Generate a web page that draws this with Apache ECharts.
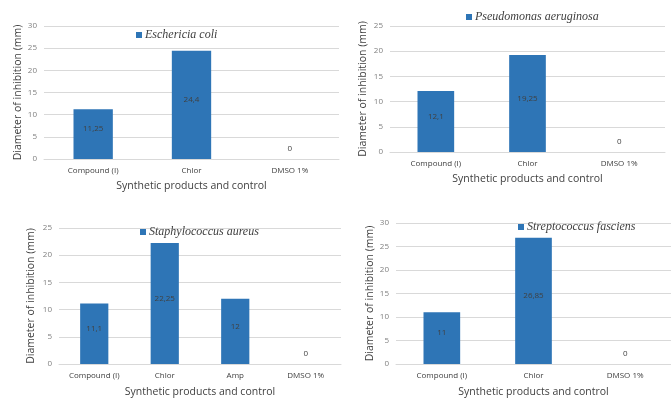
<!DOCTYPE html>
<html>
<head>
<meta charset="utf-8">
<script src="https://cdn.jsdelivr.net/npm/echarts@6/dist/echarts.min.js"></script>
<style>
  html, body { margin: 0; padding: 0; background: #fff; }
  #chart { width: 671px; height: 399px; }
</style>
</head>
<body>
<div id="chart"></div>
<script>
// Inhibition zone diameters (mm) for each test organism
const categoriesThree = ['Compound (I)', 'Chlor', 'DMSO 1%'];
const categoriesFour = ['Compound (I)', 'Chlor', 'Amp', 'DMSO 1%'];

const organismNames = ['Eschericia coli', 'Pseudomonas aeruginosa', 'Staphylococcus aureus', 'Streptococcus fasciens'];

const ecoliValues = [11.25, 24.4, 0];
const pseudomonasValues = [12.1, 19.25, 0];
const staphylococcusValues = [11.1, 22.25, 12, 0];
const streptococcusValues = [11, 26.85, 0];

const axisMaxima = [30, 25, 25, 30];
const axisStep = 5;

const xTitle = 'Synthetic products and control';
const yTitle = 'Diameter of inhibition (mm)';

// Panel layout: grid rectangles, legend anchors and axis-title gaps
const panels = [
  { cats: categoriesThree, values: ecoliValues,          grid: { left: 44,  right: 332, top: 26,  bottom: 240 }, legend: { left: 136, top: 29 },  yGap: 19, xGap: 22 },
  { cats: categoriesThree, values: pseudomonasValues,    grid: { left: 390, right: 6,   top: 26,  bottom: 247 }, legend: { left: 466, top: 11 },  yGap: 21, xGap: 22 },
  { cats: categoriesFour,  values: staphylococcusValues, grid: { left: 59,  right: 330, top: 228, bottom: 33 },  legend: { left: 140, top: 226 }, yGap: 22, xGap: 23 },
  { cats: categoriesThree, values: streptococcusValues,  grid: { left: 396, right: -7,  top: 223, bottom: 34 },  legend: { left: 518, top: 221 }, yGap: 20, xGap: 23 }
];

const sansFont = 'Open Sans';
const barColor = '#2E75B6';
const gridColor = '#D9D9D9';

const fmt = v => String(v).replace('.', ',');

const option = {
  animation: false,
  backgroundColor: '#ffffff',
  grid: [], xAxis: [], yAxis: [], series: [], legend: []
};

panels.forEach((p, i) => {
  option.grid.push(Object.assign({ containLabel: false }, p.grid));
  option.xAxis.push({
    type: 'category',
    gridIndex: i,
    data: p.cats,
    name: xTitle,
    nameLocation: 'middle',
    nameGap: p.xGap,
    nameTextStyle: { fontFamily: sansFont, fontSize: 10.5, color: '#404040' },
    axisLine: { lineStyle: { color: gridColor } },
    axisTick: { show: false },
    axisLabel: { fontFamily: sansFont, fontSize: 8, color: '#404040', margin: 8 }
  });
  option.yAxis.push({
    type: 'value',
    gridIndex: i,
    min: 0,
    max: axisMaxima[i],
    interval: axisStep,
    name: yTitle,
    nameLocation: 'middle',
    nameGap: p.yGap,
    nameTextStyle: { fontFamily: sansFont, fontSize: 10.5, color: '#404040' },
    axisLine: { show: false },
    axisTick: { show: false },
    axisLabel: { fontFamily: sansFont, fontSize: 8, color: '#7f7f7f', margin: 7 },
    splitLine: { lineStyle: { color: gridColor, width: 1 } }
  });
  option.series.push({
    type: 'bar',
    name: organismNames[i],
    xAxisIndex: i,
    yAxisIndex: i,
    barWidth: '40%',
    itemStyle: { color: barColor },
    label: {
      show: true,
      position: 'inside',
      offset: [0, -5],
      fontFamily: sansFont,
      fontSize: 8,
      color: '#404040',
      formatter: d => fmt(d.value)
    },
    data: p.values.map(v => v === 0
      ? { value: v, label: { position: 'top', offset: [0, 0], distance: 6 } }
      : v)
  });
  option.legend.push({
    data: [organismNames[i]],
    left: p.legend.left,
    top: p.legend.top,
    icon: 'rect',
    itemWidth: 6,
    itemHeight: 6,
    padding: 0,
    textStyle: { fontFamily: 'Liberation Serif', fontStyle: 'italic', fontSize: 12, color: '#404040', padding: [0, 0, 0, -2] }
  });
});

const chart = echarts.init(document.getElementById('chart'), null, { renderer: 'canvas' });
chart.setOption(option);
</script>
</body>
</html>
